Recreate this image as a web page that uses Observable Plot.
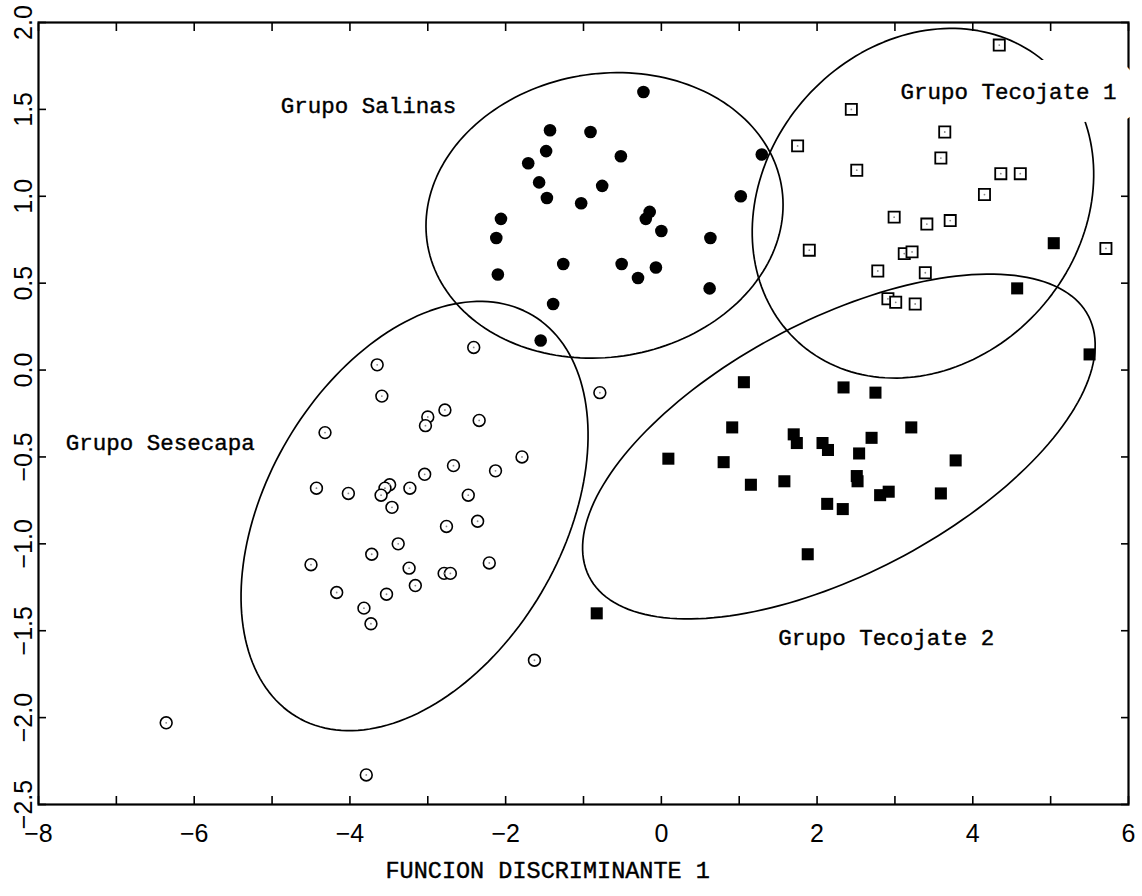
<!DOCTYPE html>
<html><head><meta charset="utf-8">
<script src="https://cdn.jsdelivr.net/npm/d3@7"></script>
<script src="https://cdn.jsdelivr.net/npm/@observablehq/plot@0.6"></script>
<style>body{margin:0;background:#fff} #chart svg{display:block;background:#fff}</style>
</head><body><div id="chart"></div>
<script>
// Grupo Salinas (filled circles)
const salinasX = [-0.23,-1.43,-0.91,-1.48,-0.52,-1.71,1.29,-1.57,-0.76,-1.47,-1.03,1.02,-2.06,-0.15,-0.20,0.00,-2.12,0.63,-1.26,-0.51,-0.30,-0.07,-2.10,0.62,-1.39,-1.55];
const salinasY = [1.60,1.38,1.37,1.26,1.23,1.19,1.24,1.08,1.06,0.99,0.96,1.00,0.87,0.91,0.87,0.80,0.76,0.76,0.61,0.61,0.53,0.59,0.55,0.47,0.38,0.17];
// Grupo Sesecapa (open circles)
const sesecapaX = [-2.41,-3.65,-3.59,-2.78,-3.00,-3.03,-2.34,-4.32,-0.79,-1.79,-2.67,-2.13,-3.04,-4.43,-4.02,-3.49,-3.55,-3.60,-3.23,-2.48,-3.46,-2.36,-2.76,-3.38,-3.72,-4.50,-3.24,-2.79,-2.71,-2.21,-4.17,-3.53,-3.16,-3.82,-3.73,-1.63,-3.79,-6.36];
const sesecapaY = [0.13,0.03,-0.15,-0.23,-0.27,-0.32,-0.29,-0.36,-0.13,-0.50,-0.55,-0.58,-0.60,-0.68,-0.71,-0.66,-0.68,-0.72,-0.68,-0.72,-0.79,-0.87,-0.90,-1.00,-1.06,-1.12,-1.14,-1.17,-1.17,-1.11,-1.28,-1.29,-1.24,-1.37,-1.46,-1.67,-2.33,-2.03];
// Grupo Tecojate 1 (open squares)
const tecojate1X = [4.34,2.44,3.64,1.75,3.59,2.51,4.36,4.61,4.15,2.99,3.41,3.71,1.90,3.12,3.22,5.71,2.78,3.39,2.91,3.01,3.26];
const tecojate1Y = [1.87,1.50,1.37,1.29,1.22,1.15,1.13,1.13,1.01,0.88,0.84,0.86,0.69,0.67,0.68,0.70,0.57,0.56,0.41,0.39,0.38];
// Grupo Tecojate 2 (filled squares)
const tecojate2X = [1.06,2.34,2.75,0.91,3.21,1.70,1.74,2.07,2.14,2.70,2.54,0.09,0.80,3.78,2.51,2.52,1.15,1.58,2.81,2.92,3.59,2.13,2.33,1.88,-0.83,5.04,4.57,5.50];
const tecojate2Y = [-0.07,-0.10,-0.13,-0.33,-0.33,-0.37,-0.42,-0.42,-0.46,-0.39,-0.48,-0.51,-0.53,-0.52,-0.61,-0.64,-0.66,-0.64,-0.72,-0.70,-0.71,-0.77,-0.80,-1.06,-1.40,0.73,0.47,0.09];

// Axis ticks and labels
const xTickValues = [-8,-7,-6,-5,-4,-3,-2,-1,0,1,2,3,4,5,6];
const xTickLabels = [-8,-6,-4,-2,0,2,4,6];
const yTickValues = [-2.5,-2.0,-1.5,-1.0,-0.5,0.0,0.5,1.0,1.5,2.0];
const xTitle = "FUNCION DISCRIMINANTE 1";

// Group labels
const groupNames = ["Grupo Salinas","Grupo Sesecapa","Grupo Tecojate 1","Grupo Tecojate 2"];
const groupLabelX = [-4.89,-7.65,3.07,1.50];
const groupLabelY = [1.52,-0.42,1.60,-1.54];

// Confidence ellipses: center and two conjugate semi-axis vectors (data units)
const ellipseNames = ["Salinas","Tecojate 1","Tecojate 2","Sesecapa"];
const ellipseCX = [-0.73, 3.36, 2.28, -3.17];
const ellipseCY = [0.89, 0.96, -0.44, -0.84];
const ellipseUX = [2.28, 1.60, 3.21, 1.52];
const ellipseUY = [0.148, 0.80, 0.747, 1.154];
const ellipseVX = [0.246, 1.50, 0.73, 1.63];
const ellipseVY = [-0.808, -0.61, -0.653, -0.44];

const zip = (xs, ys) => xs.map((x, i) => ({x, y: ys[i]}));
const salinas = zip(salinasX, salinasY);
const sesecapa = zip(sesecapaX, sesecapaY);
const tec1 = zip(tecojate1X, tecojate1Y);
const tec2 = zip(tecojate2X, tecojate2Y);
const labels = groupNames.map((t, i) => ({t, x: groupLabelX[i], y: groupLabelY[i]}));

const ellipsePts = [];
ellipseNames.forEach((name, k) => {
  const n = 180;
  for (let i = 0; i <= n; i++) {
    const a = 2 * Math.PI * i / n;
    ellipsePts.push({
      name,
      x: ellipseCX[k] + ellipseUX[k] * Math.cos(a) + ellipseVX[k] * Math.sin(a),
      y: ellipseCY[k] + ellipseUY[k] * Math.cos(a) + ellipseVY[k] * Math.sin(a)
    });
  }
});

const minus = s => s.replace("-", "\u2212");
const fmtY = d => minus(d3.format(".1f")(d));
const fmtX = d => minus(String(d));
const tickFont = "Liberation Sans, Arial, sans-serif";
const monoFont = "Liberation Mono, Courier New, monospace";

const chart = Plot.plot({
  width: 1142,
  height: 896,
  marginLeft: 38,
  marginRight: 14,
  marginTop: 22,
  marginBottom: 92,
  x: {domain: [-8, 6], label: null},
  y: {domain: [-2.5, 2.0], label: null},
  style: {background: "white", color: "black"},
  marks: [
    Plot.line(ellipsePts, {x: "x", y: "y", z: "name", stroke: "black", strokeWidth: 1.7}),
    Plot.frame({stroke: "black", strokeWidth: 2.2}),
    Plot.axisX(xTickValues, {anchor: "bottom", tickSize: -8, tickPadding: 0, tickFormat: () => "", label: null, strokeWidth: 1.6}),
    Plot.axisX(xTickValues, {anchor: "top", tickSize: -8, tickPadding: 0, tickFormat: () => "", label: null, strokeWidth: 1.6}),
    Plot.axisY(yTickValues, {anchor: "left", tickSize: -8, tickPadding: 0, tickFormat: () => "", label: null, strokeWidth: 1.6}),
    Plot.axisY(yTickValues, {anchor: "right", tickSize: -8, tickPadding: 0, tickFormat: () => "", label: null, strokeWidth: 1.6}),
    Plot.text(xTickLabels, {x: d => d, frameAnchor: "bottom", dy: 29, text: fmtX, fontSize: 25, fontFamily: tickFont, lineAnchor: "middle", textAnchor: "middle", fill: "black"}),
    Plot.text(yTickValues, {y: d => d, frameAnchor: "left", dx: -15, rotate: -90, text: fmtY, fontSize: 25, fontFamily: tickFont, lineAnchor: "middle", textAnchor: "middle", fill: "black"}),
    Plot.text([xTitle], {frameAnchor: "bottom-left", dx: 347, dy: 66, text: d => d, fontSize: 23.5, fontFamily: monoFont, textAnchor: "start", lineAnchor: "middle", fill: "black", stroke: "black", strokeWidth: 0.4}),
    Plot.text(labels.filter(d => d.t === "Grupo Tecojate 1"), {x: "x", y: "y", text: "t", fontSize: 22.5, fontFamily: monoFont, textAnchor: "start", lineAnchor: "middle", fill: "white", stroke: "white", strokeWidth: 46, strokeLinejoin: "round"}),
    Plot.text(labels, {x: "x", y: "y", text: "t", fontSize: 22.5, fontFamily: monoFont, textAnchor: "start", lineAnchor: "middle", fill: "black", stroke: "black", strokeWidth: 0.4}),
    Plot.dot(sesecapa, {x: "x", y: "y", r: 5.9, stroke: "black", strokeWidth: 1.6, fill: "white"}),
    Plot.dot(sesecapa, {x: "x", y: "y", r: 0.9, fill: "#888"}),
    Plot.dot(salinas, {x: "x", y: "y", r: 6.3, fill: "black"}),
    Plot.dot(tec1, {x: "x", y: "y", symbol: "square", r: 6.3, stroke: "black", strokeWidth: 1.8, fill: "white"}),
    Plot.dot(tec1, {x: "x", y: "y", r: 0.9, fill: "#888"}),
    Plot.dot(tec2, {x: "x", y: "y", symbol: "square", r: 6.8, fill: "black"})
  ]
});
document.getElementById("chart").appendChild(chart);
</script>
</body></html>
